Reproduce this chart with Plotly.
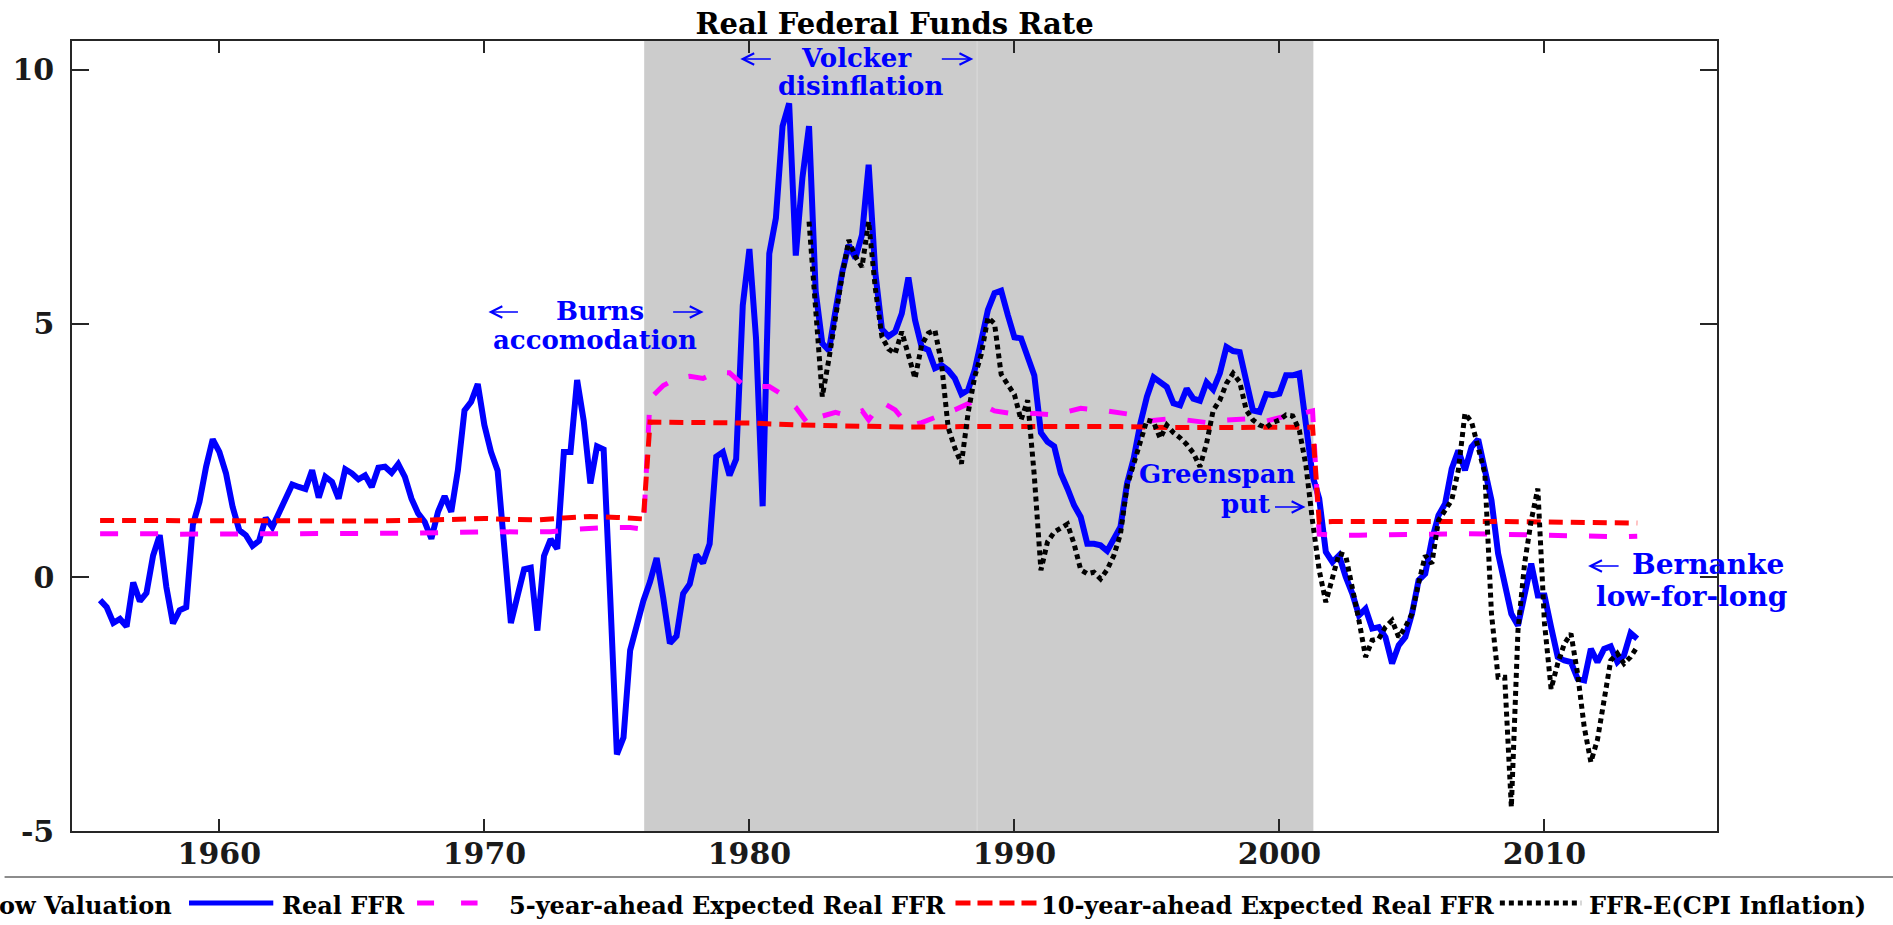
import numpy as np
import plotly.graph_objects as go

# ---------------- data ----------------
# Real FFR, quarterly from 1955Q3 (1955.5)
ffr_start = 1955.5
real_ffr = [
    -0.45, -0.59,                                   # 1955
    -0.90, -0.82, -0.97, -0.10,                     # 1956
    -0.47, -0.31, 0.43, 0.83,                       # 1957
    -0.19, -0.91, -0.65, -0.59,                     # 1958
    1.03, 1.49, 2.18, 2.72,                         # 1959
    2.47, 2.05, 1.39, 0.93,                         # 1960
    0.83, 0.62, 0.72, 1.17,                         # 1961
    0.99, 1.29, 1.58, 1.83,                         # 1962
    1.78, 1.74, 2.11, 1.57,                         # 1963
    1.98, 1.88, 1.55, 2.13,                         # 1964
    2.05, 1.93, 2.01, 1.78,                         # 1965
    2.16, 2.18, 2.06, 2.23,                         # 1966
    1.98, 1.55, 1.26, 1.09,                         # 1967
    0.76, 1.29, 1.60, 1.29,                         # 1968
    2.11, 3.29, 3.46, 3.81,                         # 1969
    3.00, 2.47, 2.10, 0.61,                         # 1970
    -0.90, -0.37, 0.16, 0.19,                       # 1971
    -1.05, 0.42, 0.75, 0.56,                        # 1972
    2.47, 2.47, 3.89, 3.08,                         # 1973
    1.85, 2.58, 2.52, -0.41,                        # 1974
    -3.49, -3.16, -1.44, -0.95,                     # 1975
    -0.46, -0.09, 0.38, -0.41,                      # 1976
    -1.30, -1.16, -0.32, -0.13,                     # 1977
    0.44, 0.28, 0.66, 2.38,                         # 1978
    2.47, 2.01, 2.33, 5.36,                         # 1979
    6.47, 4.71, 1.40, 6.38,                         # 1980
    7.08, 8.89, 9.34, 6.34,                         # 1981
    7.87, 8.89, 5.64, 4.61,                         # 1982
    4.47, 5.26, 6.01, 6.55,                         # 1983
    6.29, 6.75, 8.13, 6.01,                         # 1984
    4.89, 4.75, 4.84, 5.20,                         # 1985
    5.91, 5.07, 4.54, 4.48,                         # 1986
    4.12, 4.18, 4.08, 3.92,                         # 1987
    3.61, 3.69, 4.08, 4.67,                         # 1988
    5.27, 5.60, 5.65, 5.17,                         # 1989
    4.73, 4.71, 4.35, 3.98,                         # 1990
    2.85, 2.67, 2.58, 2.05,                         # 1991
    1.75, 1.42, 1.19, 0.66,                         # 1992
    0.66, 0.63, 0.52, 0.76,                         # 1993
    0.99, 1.85, 2.34, 3.03,                         # 1994
    3.56, 3.94, 3.83, 3.75,                         # 1995
    3.43, 3.39, 3.72, 3.52,                         # 1996
    3.48, 3.84, 3.70, 4.02,                         # 1997
    4.54, 4.46, 4.44, 3.85,                         # 1998
    3.29, 3.26, 3.61, 3.59,                         # 1999
    3.62, 3.98, 3.98, 4.02,                         # 2000
    3.03, 2.00, 1.55, 0.50,                         # 2001
    0.30, 0.43, 0.01, -0.32,                        # 2002
    -0.75, -0.62, -1.01, -0.98,                     # 2003
    -1.18, -1.70, -1.34, -1.18,                     # 2004
    -0.72, -0.06, 0.07, 0.73,                       # 2005
    1.22, 1.45, 2.14, 2.50,                         # 2006
    2.11, 2.57, 2.72, 2.18,                         # 2007
    1.52, 0.47, -0.12, -0.72,                       # 2008
    -0.95, -0.39, 0.27, -0.36,                      # 2009
    -0.36, -0.98, -1.57, -1.64,                     # 2010
    -1.67, -2.00, -2.03, -1.41,                     # 2011
    -1.67, -1.41, -1.36, -1.67,                     # 2012
    -1.54, -1.10, -1.21,                            # 2013
]

# FFR - E(CPI inflation), quarterly from 1982Q2 (1982.25)
cpi_start = 1982.25
ffr_cpi = [
    7.01, 5.13, 3.56,                               # 1982
    4.30, 5.20, 5.95, 6.65,                         # 1983
    6.32, 6.12, 7.01, 5.70,                         # 1984
    4.74, 4.50, 4.41, 4.84,                         # 1985
    4.38, 3.92, 4.58, 4.81,                         # 1986
    4.87, 4.21, 2.95, 2.55,                         # 1987
    2.24, 3.23, 3.95, 4.40,                         # 1988
    5.12, 5.00, 4.00, 3.82,                         # 1989
    3.60, 3.10, 3.49, 2.00,                         # 1990
    0.14, 0.70, 0.89, 0.97,                         # 1991
    1.05, 0.66, 0.15, 0.07,                         # 1992
    0.10, -0.03, 0.15, 0.43,                        # 1993
    0.85, 1.80, 2.24, 2.70,                         # 1994
    3.10, 3.06, 2.74, 3.00,                         # 1995
    2.85, 2.75, 2.62, 2.45,                         # 1996
    2.18, 2.64, 3.29, 3.49,                         # 1997
    3.82, 4.02, 3.85, 3.29,                         # 1998
    3.10, 3.00, 2.95, 3.05,                         # 1999
    3.10, 3.20, 3.18, 2.90,                         # 2000
    2.20, 1.10, 0.14, -0.49,                        # 2001
    0.01, 0.47, 0.43, -0.19,                        # 2002
    -0.85, -1.57, -1.24, -1.21,                     # 2003
    -0.98, -0.85, -1.18, -0.98,                     # 2004
    -0.72, -0.12, 0.43, 0.27,                       # 2005
    1.12, 1.32, 1.52, 2.11,                         # 2006
    3.23, 3.06, 2.57, 2.05,                         # 2007
    -0.72, -1.97, -1.97, -4.53,                     # 2008
    -1.05, 0.27, 1.12, 1.75,                        # 2009
    -0.90, -2.20, -1.70, -1.31,                     # 2010
    -1.11, -1.90, -2.95, -3.64,                     # 2011
    -3.20, -2.43, -1.64, -1.50,                     # 2012
    -1.70, -1.57, -1.37,                            # 2013
]

# 5-year-ahead expected real FFR
exp5_years = [1955.5, 1956.5, 1957.5, 1958.5, 1959.5, 1960.5, 1961.5, 1962.5, 1963.5, 1964.5,
              1965.5, 1966.5, 1967.5, 1968.5, 1969.5, 1970.5, 1971.5, 1972.5, 1973.5, 1974.5,
              1975.5, 1976.0,
              1976.25, 1976.75, 1977.25, 1977.75, 1978.25, 1978.75, 1979.25, 1979.75, 1980.25, 1980.75,
              1981.25, 1981.75, 1982.25, 1982.5, 1983.25, 1983.75, 1984.25, 1984.5, 1985.0, 1985.5,
              1986.0, 1986.5, 1987.0, 1987.75, 1988.5, 1989.25, 1990.0, 1990.75, 1991.5, 1992.5,
              1993.5, 1994.25, 1995.0, 1995.75, 1996.5, 1997.25, 1998.0, 1998.75, 1999.5, 2000.25,
              2000.75, 2001.25,
              2001.5, 2002.0, 2003.0, 2004.0, 2005.0, 2006.0, 2007.0, 2008.0, 2009.0, 2010.0,
              2011.0, 2012.0, 2013.0, 2013.5]
exp5_vals = [0.86, 0.87, 0.86, 0.85, 0.85, 0.85, 0.86, 0.86, 0.85, 0.86,
             0.86, 0.86, 0.87, 0.88, 0.90, 0.90, 0.89, 0.90, 0.95, 0.98,
             0.98, 0.95,
             3.52, 3.78, 3.92, 3.96, 3.92, 4.04, 4.03, 3.80, 3.76, 3.76,
             3.60, 3.35, 3.00, 3.14, 3.25, 3.18, 3.28, 3.10, 3.45, 3.30,
             2.98, 3.05, 3.15, 3.30, 3.48, 3.28, 3.22, 3.23, 3.20, 3.33,
             3.28, 3.22, 3.08, 3.12, 3.10, 3.05, 3.10, 3.12, 3.08, 3.18,
             3.22, 3.28,
             0.85, 0.83, 0.83, 0.84, 0.85, 0.86, 0.86, 0.85, 0.84, 0.83,
             0.82, 0.80, 0.80, 0.81]

# 10-year-ahead expected real FFR
exp10_years = [1955.5, 1957, 1958, 1960, 1962, 1964, 1966, 1968, 1969, 1970, 1971, 1972, 1973,
               1974, 1975, 1975.75, 1976.0,
               1976.25, 1978, 1980, 1982, 1984, 1986, 1988, 1990, 1992, 1994, 1996, 1998, 2000, 2001.25,
               2001.5, 2002, 2004, 2006, 2008, 2010, 2012, 2013.5]
exp10_vals = [1.12, 1.12, 1.10, 1.10, 1.10, 1.10, 1.11, 1.13, 1.15, 1.16, 1.14, 1.13, 1.17,
              1.20, 1.18, 1.16, 1.15,
              3.06, 3.05, 3.04, 3.00, 2.98, 2.96, 2.97, 2.97, 2.98, 2.97, 2.95, 2.95, 2.96, 2.96,
              1.09, 1.10, 1.10, 1.11, 1.10, 1.09, 1.08, 1.07]

# shaded "Low Valuation" periods
shade_starts = [1976.03, 1988.59]
shade_ends = [1988.59, 2001.28]

x_ticks = [1960, 1970, 1980, 1990, 2000, 2010]
x_ticktext = ["1960", "1970", "1980", "1990", "2000", "2010"]
y_ticks = [-5, 0, 5, 10]
y_ticktext = ["-5", "0", "5", "10"]

legend_labels = ["Low Valuation", "Real FFR", "5-year-ahead Expected Real FFR",
                 "10-year-ahead Expected Real FFR", "FFR-E(CPI Inflation)"]

assert len(exp5_years) == len(exp5_vals)
assert len(exp10_years) == len(exp10_vals)

ffr_x = ffr_start + 0.25 * np.arange(len(real_ffr))
cpi_x = cpi_start + 0.25 * np.arange(len(ffr_cpi))

# ---------------- layout geometry ----------------
W, H = 1893, 925
ML, MR, MT, MB = 58, 176, 41, 94
PW, PH = W - ML - MR, H - MT - MB


def pxx(p):
    return (p - ML) / PW


def pxy(p):
    return (H - MB - p) / PH


BLUE = "#0000FF"
MAG = "#FF00FF"
RED = "#FF0000"
BLK = "#000000"
SERIF = "DejaVu Serif"

fig = go.Figure()
fig.add_trace(go.Scatter(x=ffr_x, y=real_ffr, mode="lines", name=legend_labels[1],
                         line=dict(color=BLUE, width=6), showlegend=False))
fig.add_trace(go.Scatter(x=exp5_years, y=exp5_vals, mode="lines", name=legend_labels[2],
                         line=dict(color=MAG, width=5, dash="18px,22px"), showlegend=False))
fig.add_trace(go.Scatter(x=exp10_years, y=exp10_vals, mode="lines", name=legend_labels[3],
                         line=dict(color=RED, width=5, dash="14px,8px"), showlegend=False))
fig.add_trace(go.Scatter(x=cpi_x, y=ffr_cpi, mode="lines", name=legend_labels[4],
                         line=dict(color=BLK, width=5, dash="5px,4px"), showlegend=False))

shapes = []
for s, e in zip(shade_starts, shade_ends):
    shapes.append(dict(type="rect", xref="x", yref="paper", x0=s, x1=e, y0=0, y1=1,
                       fillcolor="#CCCCCC", line=dict(width=0), layer="below"))
shapes.append(dict(type="line", xref="x", yref="paper", x0=shade_ends[0], x1=shade_ends[0],
                   y0=0, y1=1, line=dict(color="#DADADA", width=1), layer="below"))

# legend box top border
shapes.append(dict(type="line", xref="paper", yref="paper", x0=pxx(-10), x1=pxx(W + 10),
                   y0=pxy(877), y1=pxy(877), line=dict(color="#8C8C8C", width=2)))
# legend symbols
ly = pxy(903)
shapes.append(dict(type="line", xref="paper", yref="paper", x0=pxx(176), x1=pxx(261), y0=ly, y1=ly,
                   line=dict(color=BLUE, width=5)))
shapes.append(dict(type="line", xref="paper", yref="paper", x0=pxx(406), x1=pxx(467), y0=ly, y1=ly,
                   line=dict(color=MAG, width=5, dash="17px,27px")))
shapes.append(dict(type="line", xref="paper", yref="paper", x0=pxx(949), x1=pxx(1031), y0=ly, y1=ly,
                   line=dict(color=RED, width=5, dash="15px,7px")))
shapes.append(dict(type="line", xref="paper", yref="paper", x0=pxx(1498), x1=pxx(1580), y0=ly, y1=ly,
                   line=dict(color=BLK, width=5, dash="5px,4px")))

ann = []
lf = dict(family=SERIF, size=24, color="#000000", weight="bold")
lty = pxy(905)
ann.append(dict(xref="paper", yref="paper", x=pxx(161), y=lty, text=legend_labels[0],
                xanchor="right", yanchor="middle", showarrow=False, font=lf))
ann.append(dict(xref="paper", yref="paper", x=pxx(268), y=lty, text=legend_labels[1],
                xanchor="left", yanchor="middle", showarrow=False, font=lf))
ann.append(dict(xref="paper", yref="paper", x=pxx(497), y=lty, text=legend_labels[2],
                xanchor="left", yanchor="middle", showarrow=False, font=lf))
ann.append(dict(xref="paper", yref="paper", x=pxx(1033), y=lty, text=legend_labels[3],
                xanchor="left", yanchor="middle", showarrow=False, font=lf))
ann.append(dict(xref="paper", yref="paper", x=pxx(1586), y=lty, text=legend_labels[4],
                xanchor="left", yanchor="middle", showarrow=False, font=lf))

tf = dict(family=SERIF, size=26, color=BLUE, weight="bold")
tf_b = dict(family=SERIF, size=28, color=BLUE, weight="bold")


def txt(xp, yp, s, font, xa="center"):
    ann.append(dict(xref="paper", yref="paper", x=pxx(xp), y=pxy(yp), text=s,
                    xanchor=xa, yanchor="middle", showarrow=False, font=font, borderpad=0))


def arrow(x_tail, x_head, yp):
    ann.append(dict(xref="paper", yref="paper", x=pxx(x_head), y=pxy(yp), text="",
                    showarrow=True, ax=x_tail - x_head, ay=0, arrowhead=5, arrowsize=1.4,
                    arrowwidth=1.6, arrowcolor=BLUE, standoff=0, startstandoff=0))


# Volcker
arrow(764, 732, 59)
txt(849, 58, "Volcker", tf)
arrow(934, 967, 59)
txt(853, 86, "disinflation", tf)
# Burns
arrow(509, 478, 312)
txt(590, 311, "Burns", tf)
arrow(663, 695, 312)
txt(585, 340, "accomodation", tf)
# Greenspan
txt(1293, 474, "Greenspan", tf, "right")
txt(1267, 504, "put", tf, "right")
arrow(1270, 1302, 507)
# Bernanke
arrow(1619, 1587, 566)
txt(1708, 564, "Bernanke", tf_b)
txt(1691, 596, "low-for-long", tf_b)

axis_common = dict(showline=True, linecolor="#262626", linewidth=1.5, mirror="ticks",
                   ticks="inside", tickcolor="#262626", tickwidth=1.5, showgrid=False,
                   zeroline=False,
                   tickfont=dict(family=SERIF, size=30, color="#1a1a1a", weight="bold"))

fig.update_layout(
    width=W, height=H, autosize=False,
    margin=dict(l=ML, r=MR, t=MT, b=MB, pad=0),
    paper_bgcolor="white", plot_bgcolor="white",
    title=dict(text="Real Federal Funds Rate", x=pxx((ML + W - MR) / 2), xref="paper",
               xanchor="center", y=1 - 24 / H, yref="container", yanchor="middle",
               font=dict(family=SERIF, size=29, color="#000000", weight="bold")),
    xaxis=dict(range=[1954.44, 2016.51], tickmode="array", tickvals=x_ticks, ticktext=x_ticktext,
               ticklen=12, ticklabelstandoff=-5, **axis_common),
    yaxis=dict(range=[-5, 10.57], tickmode="array", tickvals=y_ticks, ticktext=y_ticktext,
               ticklen=17, ticklabelstandoff=10, **axis_common),
    shapes=shapes, annotations=ann, showlegend=False,
)

fig.write_html("out.html", config={"displayModeBar": False},
               post_script="document.body.style.margin='0px';document.body.style.overflow='hidden';")
